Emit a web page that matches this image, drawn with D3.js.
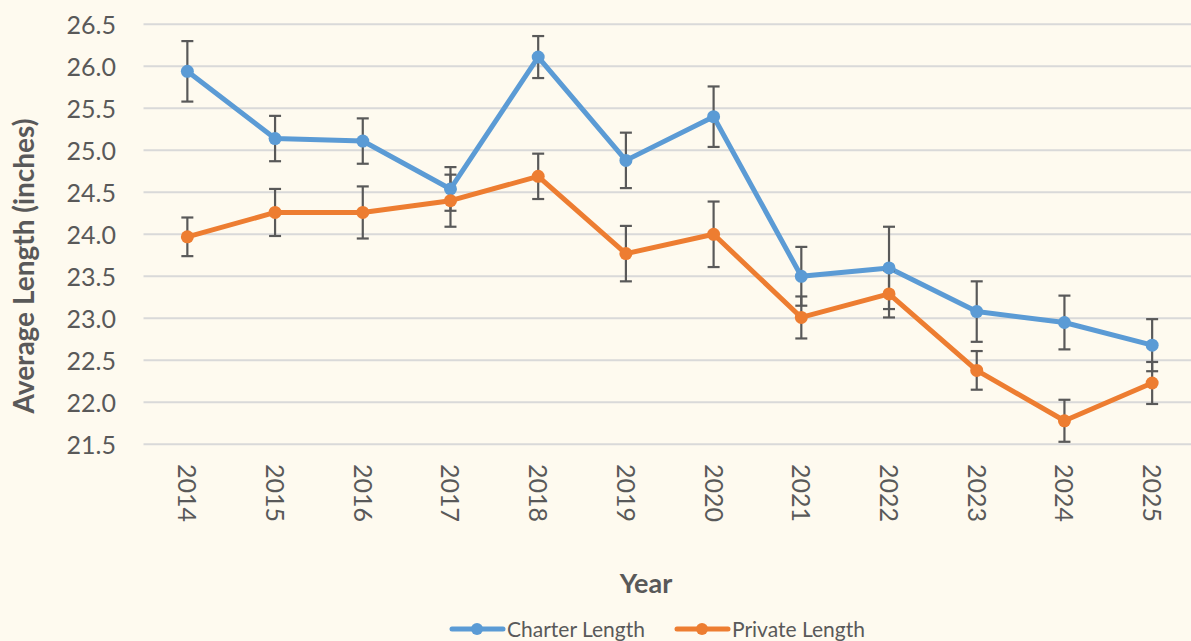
<!DOCTYPE html>
<html>
<head>
<meta charset="utf-8">
<script src="https://cdn.jsdelivr.net/npm/d3@7"></script>
<style>
  body { margin: 0; background: #FEFAEF; }
  svg { display: block; font-family: Lato, "Open Sans", sans-serif; }
</style>
</head>
<body>
<svg id="chart" width="1191" height="641"></svg>
<script>
var years = ['2014','2015','2016','2017','2018','2019','2020','2021','2022','2023','2024','2025'];
var charterLength = [25.94, 25.14, 25.11, 24.54, 26.11, 24.88, 25.40, 23.50, 23.60, 23.08, 22.95, 22.68];
var charterError  = [0.36, 0.27, 0.27, 0.26, 0.25, 0.33, 0.36, 0.35, 0.49, 0.36, 0.32, 0.31];
var privateLength = [23.97, 24.26, 24.26, 24.40, 24.69, 23.77, 24.00, 23.01, 23.29, 22.38, 21.78, 22.23];
var privateError  = [0.23, 0.28, 0.31, 0.31, 0.27, 0.33, 0.39, 0.25, 0.28, 0.23, 0.25, 0.25];
var yTicks = [21.5, 22.0, 22.5, 23.0, 23.5, 24.0, 24.5, 25.0, 25.5, 26.0, 26.5];

var series = [
  {name: 'Charter Length', values: charterLength, errors: charterError, color: '#5B9BD5'},
  {name: 'Private Length', values: privateLength, errors: privateError, color: '#ED7D31'}
];

var svg = d3.select('#chart');
svg.append('rect').attr('width', 1191).attr('height', 641).attr('fill', '#FEFAEF');

var x = d3.scaleBand().domain(years).range([143.5, 1196]);
var y = d3.scaleLinear().domain([21.5, 26.5]).range([444.3, 24.3]);
var textColor = '#595959';

// gridlines
svg.append('g').selectAll('line').data(yTicks).enter().append('line')
  .attr('x1', 143.5).attr('x2', 1196)
  .attr('y1', d => y(d)).attr('y2', d => y(d))
  .attr('stroke', '#D9D9D9').attr('stroke-width', 2);

// y axis labels
var yAxis = d3.axisLeft(y).tickValues(yTicks).tickFormat(d3.format('.1f')).tickSize(0).tickPadding(0);
var gy = svg.append('g').attr('transform', 'translate(116,0)').call(yAxis);
gy.select('.domain').remove();
gy.selectAll('text').attr('fill', textColor).style('font-size', '25px').attr('dy', '0.36em')
  .style('font-family', 'Lato, sans-serif');

// x axis labels (rotated)
var gx = svg.append('g');
gx.selectAll('text').data(years).enter().append('text')
  .attr('transform', d => 'translate(' + (x(d) + x.bandwidth() / 2 - 9) + ',464) rotate(90)')
  .attr('text-anchor', 'start')
  .attr('fill', textColor)
  .style('font-size', '25px')
  .text(d => d);

// axis titles
svg.append('text')
  .attr('transform', 'translate(34,266) rotate(-90)')
  .attr('text-anchor', 'middle')
  .attr('fill', textColor)
  .style('font-size', '28px').style('font-weight', 'bold')
  .text('Average Length (inches)');

svg.append('text')
  .attr('x', 646).attr('y', 593)
  .attr('text-anchor', 'middle')
  .attr('fill', textColor)
  .style('font-size', '27px').style('font-weight', 'bold')
  .text('Year');

var cx = d => x(d) + x.bandwidth() / 2;
var line = d3.line().x((d, i) => cx(years[i])).y(d => y(d));

// lines
series.forEach(s => {
  svg.append('path')
    .datum(s.values)
    .attr('d', line)
    .attr('fill', 'none')
    .attr('stroke', s.color)
    .attr('stroke-width', 5)
    .attr('stroke-linejoin', 'round');
});

// error bars
series.forEach(s => {
  var g = svg.append('g').attr('stroke', '#595959').attr('stroke-width', 2.2);
  s.values.forEach((v, i) => {
    var px = cx(years[i]);
    var top = y(v + s.errors[i]), bot = y(v - s.errors[i]);
    g.append('line').attr('x1', px).attr('x2', px).attr('y1', top).attr('y2', bot);
    g.append('line').attr('x1', px - 6).attr('x2', px + 6).attr('y1', top).attr('y2', top);
    g.append('line').attr('x1', px - 6).attr('x2', px + 6).attr('y1', bot).attr('y2', bot);
  });
});

// markers
series.forEach(s => {
  svg.append('g').selectAll('circle').data(s.values).enter().append('circle')
    .attr('cx', (d, i) => cx(years[i]))
    .attr('cy', d => y(d))
    .attr('r', 6.5)
    .attr('fill', s.color);
});

// legend
var legendX = [450, 675];
series.forEach((s, i) => {
  var g = svg.append('g').attr('transform', 'translate(' + legendX[i] + ',629)');
  g.append('line').attr('x1', 2).attr('x2', 53).attr('y1', 0).attr('y2', 0)
    .attr('stroke', s.color).attr('stroke-width', 5).attr('stroke-linecap', 'round');
  g.append('circle').attr('cx', 27).attr('cy', 0).attr('r', 6).attr('fill', s.color);
  g.append('text').attr('x', 57).attr('y', 8)
    .attr('fill', textColor).style('font-size', '21px')
    .text(s.name);
});
</script>
</body>
</html>
